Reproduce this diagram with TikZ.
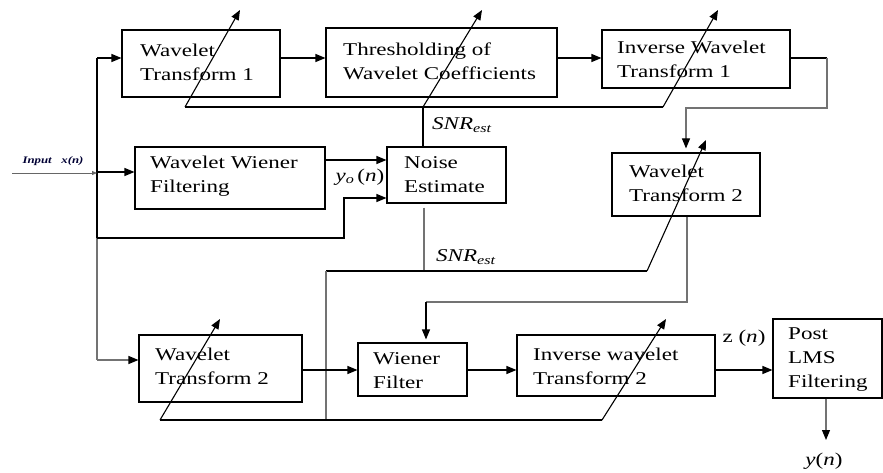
\documentclass[tikz,border=0pt]{standalone}
\usepackage{fontspec}
\setmainfont[FakeStretch=1.28]{Liberation Serif}
\usetikzlibrary{arrows.meta}
\begin{document}
\begin{tikzpicture}[x=1pt,y=-1pt,
  box/.style={draw, line width=1.1pt, inner sep=0pt},
  lbl/.style={inner sep=0pt, align=left, anchor=west, font=\fontsize{18}{24}\selectfont},
  tag/.style={inner sep=0pt, font=\fontsize{18}{22}\selectfont},
  ln/.style={line width=1.1pt},
  lng/.style={line width=1.1pt, draw=black!55},
  arr/.style={line width=1.1pt, -{Triangle[length=10pt,width=8pt]}},
  arrg/.style={line width=1.1pt, draw=black!55, -{Triangle[length=10pt,width=8pt,color=black]}},
  arrs/.style={line width=0.8pt, draw=black!60, -{Triangle[length=5pt,width=4pt]}}
]
\useasboundingbox (0,0) rectangle (883,473);

% boxes
\node[box, minimum width=158pt, minimum height=67pt] (wt1)   at (201,63.5) {};
\node[box, minimum width=231pt, minimum height=69pt] (thr)   at (441.5,62.5) {};
\node[box, minimum width=188pt, minimum height=58pt] (iwt1)  at (696,59) {};
\node[box, minimum width=190pt, minimum height=62pt] (wwf)   at (230,178) {};
\node[box, minimum width=119pt, minimum height=56pt] (noise) at (446.5,175) {};
\node[box, minimum width=148pt, minimum height=63pt] (wt2r)  at (686,184.5) {};
\node[box, minimum width=163pt, minimum height=67pt] (wt2b)  at (220.5,368.5) {};
\node[box, minimum width=109pt, minimum height=53pt] (wien)  at (412.5,369.5) {};
\node[box, minimum width=198pt, minimum height=61pt] (iwt2)  at (616,365.5) {};
\node[box, minimum width=109pt, minimum height=79pt] (post)  at (827.5,358.5) {};

% box texts
\node[lbl] (wt1t)   at (140,62)  {Wavelet\\Transform 1};
\node[lbl] (thrt)   at (343,61)  {Thresholding of\\Wavelet Coefficients};
\node[lbl] (iwt1t)  at (617,59)  {Inverse Wavelet\\Transform 1};
\node[lbl] (wwft)   at (150,176) {Wavelet Wiener\\Filtering};
\node[lbl] (noiset) at (404,175) {Noise\\Estimate};
\node[lbl] (wt2rt)  at (629,183) {Wavelet\\Transform 2};
\node[lbl] (wt2bt)  at (155,366) {Wavelet\\Transform 2};
\node[lbl] (wient)  at (373,371) {Wiener\\Filter};
\node[lbl] (iwt2t)  at (533,366) {Inverse wavelet\\Transform 2};
\node[lbl] (postt)  at (788,360) {Post\\LMS\\Filtering};

% input and left bus
\coordinate (inS)  at (12,173);
\coordinate (busT) at (97,58);
\coordinate (busI) at (97,173);
\coordinate (bus2) at (97,172);
\coordinate (bus3) at (97,238);
\coordinate (busB) at (97,360);
\coordinate (k1) at (344,238);
\coordinate (k2) at (344,198);
\draw[ln] (busT) -- (bus3);
\draw[lng] (bus3) -- (busB);
\draw[arrs] (inS) -- (busI);
\node[inner sep=0pt, font=\fontsize{10}{12}\selectfont\itshape\bfseries, text=black!80!blue] (inl) at (53,161) {Input\ \ \ x(n)};
\draw[arr] (busT) -- (wt1.west |- busT);
\draw[arr] (bus2) -- (wwf.west |- bus2);
\draw[arr] (bus3) -- (k1) -- (k2) -- (noise.west |- k2);
\draw[arrg] (busB) -- (wt2b.west |- busB);

% top row flow
\coordinate (r1) at (0,58);
\draw[arr] (wt1.east |- r1) -- (thr.west |- r1);
\draw[arr] (thr.east |- r1) -- (iwt1.west |- r1);
\coordinate (o1) at (827,58);
\coordinate (o2) at (827,108);
\coordinate (o3) at (686,108);
\draw[ln] (iwt1.east |- r1) -- (o1);
\draw[arrg, shorten >=4pt] (o1) -- (o2) -- (o3) -- (wt2r.north);

% wiener -> noise
\coordinate (r2) at (0,160);
\draw[arr] (wwf.east |- r2) -- (noise.west |- r2);
\node[tag] (yo) at (360,177) {\textit{y}\textsubscript{\textit{o}}\,(\textit{n})};

% upper SNR bus and adaptation arrows
\coordinate (s0) at (185,107);
\coordinate (sv) at (423,107);
\coordinate (s1) at (663,107);
\coordinate (e0) at (240,10);
\coordinate (e1) at (482,10);
\coordinate (e2) at (718,10);
\draw[ln] (s0) -- (s1);
\draw[ln] (noise.north -| sv) -- (sv);
\draw[arr] (s0) -- (e0);
\draw[arr] (sv) -- (e1);
\draw[arr] (s1) -- (e2);
\node[tag] (snr1) at (462,125) {\textit{SNR}\textsubscript{\textit{est}}};

% lower SNR bus and adaptation arrows
\coordinate (nv) at (424,271);
\coordinate (m0) at (326,271);
\coordinate (m1) at (647,271);
\coordinate (e3) at (706,140);
\coordinate (b0) at (160,420);
\coordinate (b1) at (602,420);
\coordinate (e4) at (220,319);
\coordinate (e5) at (666,319);
\draw[lng] ([yshift=-4pt]noise.south -| nv) -- (nv);
\node[tag] (snr2) at (466,257) {\textit{SNR}\textsubscript{\textit{est}}};
\draw[ln] (m0) -- (m1);
\draw[arr] (m1) -- (e3);
\draw[lng] (m0) -- (m0 |- b0);
\draw[ln] (b0) -- (b1);
\draw[arr] (b0) -- (e4);
\draw[arr] (b1) -- (e5);

% wavelet transform 2 (right) to wiener filter
\coordinate (w1) at (687,302);
\coordinate (w2) at (426,302);
\draw[lng] (wt2r.south -| w1) -- (w1) -- (w2);
\draw[arr, shorten >=3pt] (w2) -- (wien.north -| w2);

% bottom row flow
\coordinate (r3) at (0,370);
\draw[arr] (wt2b.east |- r3) -- (wien.west |- r3);
\draw[arr] (wien.east |- r3) -- (iwt2.west |- r3);
\draw[arr] (iwt2.east |- r3) -- (post.west |- r3);
\node[tag] (zn) at (744,338) {z (\textit{n})};

% output
\coordinate (pd) at (826,440);
\draw[arrg] (post.south -| pd) -- (pd);
\node[tag] (yn) at (824,461) {\textit{y}(\textit{n})};
\end{tikzpicture}
\end{document}
